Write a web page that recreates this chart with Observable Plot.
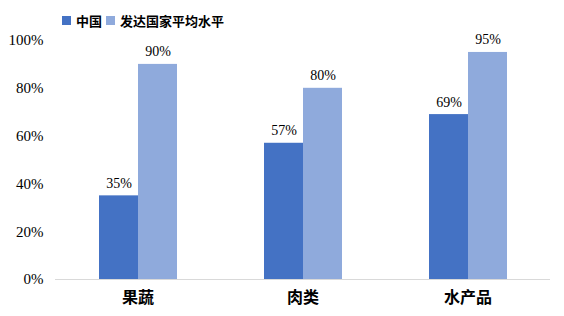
<!DOCTYPE html>
<html><head><meta charset="utf-8">
<script src="https://cdn.jsdelivr.net/npm/d3@7"></script>
<script src="https://cdn.jsdelivr.net/npm/@observablehq/plot@0.6"></script>
<style>
body{margin:0;background:#fff;}
#wrap{position:relative;width:564px;height:316px;}
#legend{position:absolute;top:11px;left:62px;font-family:"Noto Sans CJK SC",sans-serif;font-weight:bold;font-size:13px;color:#000;display:flex;align-items:center;white-space:nowrap;}
#legend .sw{display:inline-block;width:9px;height:9px;margin-right:5px;}
#legend .it{display:flex;align-items:center;margin-right:4px;}
</style></head>
<body><div id="wrap"><div id="legend"></div></div>
<script>
const categories = ["果蔬", "肉类", "水产品"];
const seriesNames = ["中国", "发达国家平均水平"];
const china = [35, 57, 69];
const developed = [90, 80, 95];
const yTicks = [0, 20, 40, 60, 80, 100];
const colors = ["#4472C4", "#8FAADC"];

const data = [];
categories.forEach((c, i) => {
  data.push({cat: c, series: seriesNames[0], value: china[i]});
  data.push({cat: c, series: seriesNames[1], value: developed[i]});
});

const leg = document.getElementById("legend");
seriesNames.forEach((s, i) => {
  const it = document.createElement("span");
  it.className = "it";
  it.innerHTML = `<span class="sw" style="background:${colors[i]}"></span>${s}`;
  leg.appendChild(it);
});

const chart = Plot.plot({
  width: 564,
  height: 316,
  marginLeft: 55,
  marginRight: 14,
  marginTop: 40,
  marginBottom: 37,
  style: {fontFamily: "'Liberation Serif', serif", fontSize: "14px", color: "#000", background: "transparent", overflow: "visible"},
  fx: {domain: categories, padding: 0, label: null, axis: null},
  x: {domain: seriesNames, paddingInner: 0, paddingOuter: 1.115, axis: null},
  y: {domain: [0, 100], ticks: yTicks, label: null},
  color: {domain: seriesNames, range: colors},
  marks: [
    Plot.axisY({ticks: yTicks, tickSize: 0, tickPadding: 12, tickFormat: d => d + "%", fontSize: 15, label: null}),
    Plot.axisFx({anchor: "bottom", tickSize: 0, tickPadding: 12, label: null, fontSize: 16, fontWeight: "bold", fontFamily: "'Noto Sans CJK SC', sans-serif"}),
    Plot.barY(data, {fx: "cat", x: "series", y: "value", fill: "series"}),
    Plot.text(data, {fx: "cat", x: "series", y: "value", text: d => d.value + "%", lineAnchor: "bottom", dy: -8, fontSize: 14, fill: "#000"}),
    Plot.ruleY([0], {stroke: "#d9d9d9", strokeWidth: 1})
  ]
});
document.getElementById("wrap").appendChild(chart);
</script></body></html>
